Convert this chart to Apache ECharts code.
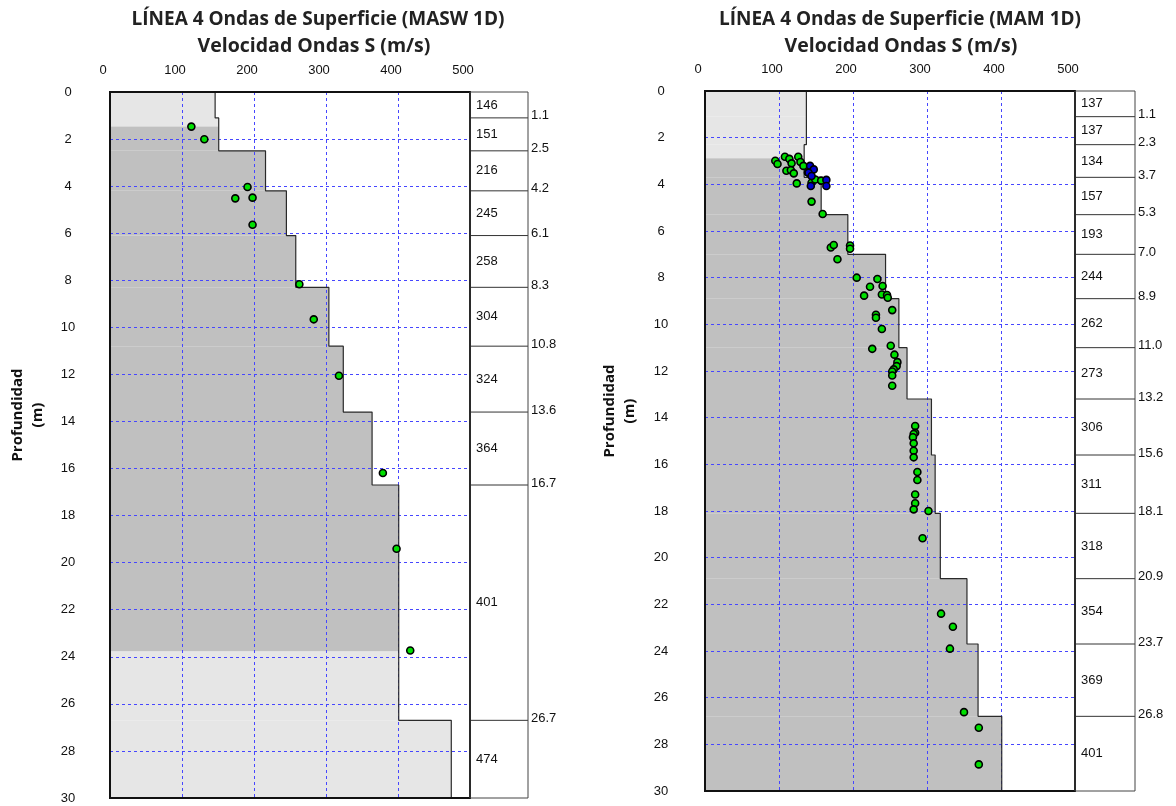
<!DOCTYPE html>
<html>
<head>
<meta charset="utf-8">
<script src="https://cdn.jsdelivr.net/npm/echarts@6/dist/echarts.min.js"></script>
<style>html,body{margin:0;padding:0;background:#fff;}#c{width:1176px;height:806px;}</style>
</head>
<body>
<div id="c"></div>
<script>
// ---------- DATA ----------
// Left: MASW 1D
const layerVsA = [146, 151, 216, 245, 258, 304, 324, 364, 401, 474];
const layerBottomA = [1.1, 2.5, 4.2, 6.1, 8.3, 10.8, 13.6, 16.7, 26.7, 30];
const shadeBreaksA = [0, 1.47, 23.78, 30];
const shadeKindsA = [0, 1, 0];        // 0 = light, 1 = dark
const pointVsA = [113, 131, 191, 174, 198, 198, 263, 283, 318, 379, 398, 417];
const pointDepthA = [1.47, 2.01, 4.04, 4.52, 4.49, 5.64, 8.17, 9.66, 12.06, 16.19, 19.41, 23.73];

// Right: MAM 1D
const layerVsB = [137, 137, 134, 157, 193, 244, 262, 273, 306, 311, 318, 354, 369, 401];
const layerBottomB = [1.1, 2.3, 3.7, 5.3, 7.0, 8.9, 11.0, 13.2, 15.6, 18.1, 20.9, 23.7, 26.8, 30];
const shadeBreaksB = [0, 2.88, 30];
const shadeKindsB = [0, 1];
const pointVsB = [95, 98, 108, 114, 117, 110, 116, 120, 126, 129, 133, 124, 144, 149, 157, 139, 144,
  159, 170, 174, 196, 196, 179, 205, 233, 223, 240, 215, 239, 246, 247, 253, 231, 231, 239,
  251, 226, 256, 260, 259, 255, 253, 253, 253,
  284, 284, 282, 281, 282, 282, 282, 287, 287, 284, 284, 282, 302, 294,
  319, 335, 331, 350, 370, 370];
const pointDepthB = [2.99, 3.13, 2.82, 2.91, 3.10, 3.42, 3.39, 3.53, 2.82, 3.04, 3.21, 3.96, 3.93, 3.79, 3.84, 3.49, 4.74,
  5.27, 6.71, 6.60, 6.62, 6.76, 7.21, 8.00, 8.06, 8.39, 8.36, 8.77, 8.72, 8.74, 8.86, 9.39, 9.59, 9.72, 10.2,
  10.92, 11.05, 11.3, 11.62, 11.79, 11.93, 12.02, 12.19, 12.63,
  14.36, 14.65, 14.7, 14.84, 15.1, 15.42, 15.7, 16.33, 16.67, 17.29, 17.67, 17.93, 18.0, 19.17,
  22.4, 22.96, 23.9, 26.62, 27.29, 28.86];
const blueVsB = [142, 147, 140, 144, 164, 164, 143];
const blueDepthB = [3.21, 3.36, 3.50, 3.64, 3.81, 4.07, 4.07];

const xTicks = [0, 100, 200, 300, 400, 500];
const yTicks = [0, 2, 4, 6, 8, 10, 12, 14, 16, 18, 20, 22, 24, 26, 28, 30];

// ---------- BUILDERS ----------
function layerTops(bottoms) { return bottoms.map((b, i) => i === 0 ? 0 : bottoms[i - 1]); }

function stepLine(vs, bottoms) {
  const tops = layerTops(bottoms);
  const pts = [];
  vs.forEach((v, i) => { pts.push([v, tops[i]]); pts.push([v, bottoms[i]]); });
  return pts;
}

function shadePieces(vs, bottoms, breaks, kinds) {
  const tops = layerTops(bottoms);
  const out = [];
  vs.forEach((v, i) => {
    for (let k = 0; k < kinds.length; k++) {
      const t = Math.max(tops[i], breaks[k]);
      const b = Math.min(bottoms[i], breaks[k + 1]);
      if (b > t) out.push([v, t, b, kinds[k]]);
    }
  });
  return out;
}

function tableRows(vs, bottoms) {
  const tops = layerTops(bottoms);
  return vs.map((v, i) => [tops[i], bottoms[i], v]);
}

const SHADE = ['#e6e6e6', '#c0c0c0'];
function shadeItem(params, api) {
  const a = api.coord([0, api.value(1)]);
  const b = api.coord([api.value(0), api.value(2)]);
  return { type: 'rect', shape: { x: a[0], y: a[1], width: b[0] - a[0], height: b[1] - a[1] },
    style: { fill: SHADE[api.value(3)] } };
}

function tableItem(params, api) {
  const top = api.value(0), bot = api.value(1), vs = api.value(2);
  const a = api.coord([0, top]);
  const b = api.coord([1, bot]);
  const children = [{
    type: 'text',
    style: { text: String(vs), x: a[0] + 6, y: (a[1] + b[1]) / 2, verticalAlign: 'middle', align: 'left',
      font: '13px "Liberation Sans", Arial, sans-serif', fill: '#111' }
  }];
  if (bot < 30) {
    children.push({ type: 'line', shape: { x1: a[0], y1: b[1], x2: b[0], y2: b[1] },
      style: { stroke: '#333', lineWidth: 1 } });
    children.push({ type: 'text',
      style: { text: bot.toFixed(1), x: b[0] + 3, y: b[1] - 2, verticalAlign: 'middle', align: 'left',
        font: '13px "Liberation Sans", Arial, sans-serif', fill: '#111' } });
  }
  return { type: 'group', children: children };
}

function gridLine() { return { show: true, lineStyle: { color: '#4646ff', width: 1, type: [3, 3] } }; }
function labelFont() { return { fontFamily: '"Liberation Sans", Arial, sans-serif', fontSize: 13, color: '#111' }; }

function mainX(gi) {
  return { type: 'value', gridIndex: gi, position: 'top', min: 0, max: 500, interval: 100, z: 3,
    axisLine: { show: false }, axisTick: { show: false },
    axisLabel: Object.assign({ margin: 15, padding: [0, 14, 0, 0],
      formatter: v => xTicks.indexOf(v) >= 0 ? String(v) : '' }, labelFont()),
    splitLine: gridLine() };
}
function mainY(gi, gap, lblMargin) {
  return { type: 'value', gridIndex: gi, inverse: true, min: 0, max: 30, interval: 2, z: 3,
    axisLine: { show: false }, axisTick: { show: false },
    axisLabel: Object.assign({ margin: lblMargin, align: 'center',
      formatter: v => yTicks.indexOf(v) >= 0 ? String(v) : '' }, labelFont()),
    splitLine: gridLine(),
    name: 'Profundidad\n(m)', nameLocation: 'middle', nameRotate: 90, nameGap: gap,
    nameTextStyle: { fontFamily: '"Open Sans", sans-serif', fontWeight: 'bold', fontSize: 15, color: '#111',
      lineHeight: 20, padding: [0, 0, 0, 60] } };
}
function hidX(gi) { return { type: 'value', gridIndex: gi, min: 0, max: 1, show: false }; }
function hidY(gi) { return { type: 'value', gridIndex: gi, min: 0, max: 30, inverse: true, show: false }; }

const titleFont = { fontFamily: '"Open Sans", sans-serif', fontWeight: 'bold', fontSize: 19, color: '#222' };
const subFont = { fontFamily: '"Open Sans", sans-serif', fontWeight: 'bold', fontSize: 19.5, color: '#222' };

const chart = echarts.init(document.getElementById('c'), null, { renderer: 'canvas' });
chart.setOption({
  animation: false,
  backgroundColor: '#fff',
  title: [
    { text: 'LÍNEA 4 Ondas de Superficie (MASW 1D)', left: 313, top: 5, textAlign: 'center', textStyle: titleFont },
    { text: 'Velocidad Ondas S (m/s)', left: 309, top: 31, textAlign: 'center', textStyle: subFont },
    { text: 'LÍNEA 4 Ondas de Superficie (MAM 1D)', left: 895, top: 5, textAlign: 'center', textStyle: titleFont },
    { text: 'Velocidad Ondas S (m/s)', left: 896, top: 31, textAlign: 'center', textStyle: subFont }
  ],
  grid: [
    { left: 110, top: 92, width: 360, height: 706, show: true, borderColor: '#111', borderWidth: 2, backgroundColor: 'transparent', z: 10 },
    { left: 470, top: 92, width: 58, height: 706, show: true, borderColor: '#444', borderWidth: 1, backgroundColor: 'transparent', z: 10 },
    { left: 705, top: 91, width: 370, height: 700, show: true, borderColor: '#111', borderWidth: 2, backgroundColor: 'transparent', z: 10 },
    { left: 1075, top: 91, width: 60, height: 700, show: true, borderColor: '#444', borderWidth: 1, backgroundColor: 'transparent', z: 10 }
  ],
  xAxis: [mainX(0), hidX(1), mainX(2), hidX(3)],
  yAxis: [mainY(0, 62, 42), hidY(1), mainY(2, 65, 44), hidY(3)],
  series: [
    { type: 'custom', xAxisIndex: 0, yAxisIndex: 0, z: 1, silent: true, renderItem: shadeItem,
      data: shadePieces(layerVsA, layerBottomA, shadeBreaksA, shadeKindsA) },
    { type: 'line', xAxisIndex: 0, yAxisIndex: 0, z: 4, symbol: 'none', silent: true,
      lineStyle: { color: '#2a2a2a', width: 1.2 }, data: stepLine(layerVsA, layerBottomA) },
    { type: 'scatter', xAxisIndex: 0, yAxisIndex: 0, z: 6, symbol: 'circle', symbolSize: 7,
      itemStyle: { color: '#00e000', borderColor: '#000', borderWidth: 1.6, opacity: 1 },
      data: pointVsA.map((v, i) => [v, pointDepthA[i]]) },
    { type: 'custom', xAxisIndex: 1, yAxisIndex: 1, z: 6, silent: true, renderItem: tableItem,
      data: tableRows(layerVsA, layerBottomA) },

    { type: 'custom', xAxisIndex: 2, yAxisIndex: 2, z: 1, silent: true, renderItem: shadeItem,
      data: shadePieces(layerVsB, layerBottomB, shadeBreaksB, shadeKindsB) },
    { type: 'line', xAxisIndex: 2, yAxisIndex: 2, z: 4, symbol: 'none', silent: true,
      lineStyle: { color: '#2a2a2a', width: 1.2 }, data: stepLine(layerVsB, layerBottomB) },
    { type: 'scatter', xAxisIndex: 2, yAxisIndex: 2, z: 6, symbol: 'circle', symbolSize: 7,
      itemStyle: { color: '#00e000', borderColor: '#000', borderWidth: 1.6, opacity: 1 },
      data: pointVsB.map((v, i) => [v, pointDepthB[i]]) },
    { type: 'scatter', xAxisIndex: 2, yAxisIndex: 2, z: 7, symbol: 'circle', symbolSize: 7,
      itemStyle: { color: '#0000d0', borderColor: '#000', borderWidth: 1.6, opacity: 1 },
      data: blueVsB.map((v, i) => [v, blueDepthB[i]]) },
    { type: 'custom', xAxisIndex: 3, yAxisIndex: 3, z: 6, silent: true, renderItem: tableItem,
      data: tableRows(layerVsB, layerBottomB) }
  ]
});
</script>
</body>
</html>
